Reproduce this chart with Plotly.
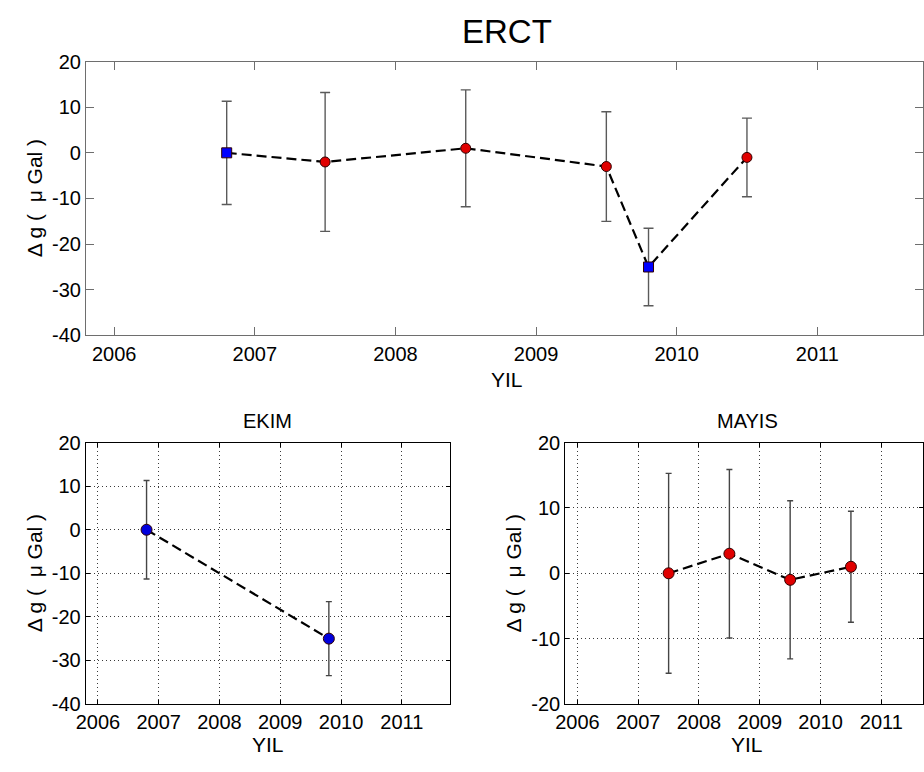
import plotly.graph_objects as go

# ---- data ----
top_x = [2006.8, 2007.5, 2008.5, 2009.5, 2009.8, 2010.5]
top_y = [0, -2, 1, -3, -25, -1]
top_err = [11.3, 15.2, 12.8, 12.0, 8.5, 8.6]
top_campaign = ["EKIM", "MAYIS", "MAYIS", "MAYIS", "EKIM", "MAYIS"]

ekim_x = [2006.8, 2009.8]
ekim_y = [0, -25]
ekim_err = [11.3, 8.5]

mayis_x = [2007.5, 2008.5, 2009.5, 2010.5]
mayis_y = [0, 3, -1, 1]
mayis_err = [15.3, 12.9, 12.1, 8.5]

year_ticks = [2006, 2007, 2008, 2009, 2010, 2011]
top_yticks = [20, 10, 0, -10, -20, -30, -40]
ekim_yticks = [20, 10, 0, -10, -20, -30, -40]
mayis_yticks = [20, 10, 0, -10, -20]

title_main = "ERCT"
title_ekim = "EKIM"
title_mayis = "MAYIS"
xlabel = "YIL"
ylabel = "Δ g (  μ Gal )"

W, H = 924, 772
FONT = "Liberation Sans, Arial, sans-serif"
DASH = "10px,5px"

fig = go.Figure()

def add_panel(xs, ys, errs, colors, symbols, xa, ya, cap, msize, ecolor):
    # error bars
    fig.add_trace(go.Scatter(
        x=xs, y=ys, mode="markers", xaxis=xa, yaxis=ya,
        marker=dict(size=1, opacity=0),
        error_y=dict(type="data", array=errs, visible=True,
                     color=ecolor, thickness=1.4, width=cap),
        showlegend=False, hoverinfo="skip"))
    # dashed line
    fig.add_trace(go.Scatter(
        x=xs, y=ys, mode="lines", xaxis=xa, yaxis=ya,
        line=dict(color="black", width=2.2, dash=DASH),
        showlegend=False))
    # markers
    fig.add_trace(go.Scatter(
        x=xs, y=ys, mode="markers", xaxis=xa, yaxis=ya,
        marker=dict(color=colors, symbol=symbols, size=msize,
                    line=dict(color="#300000", width=1)),
        showlegend=False))

top_colors = ["#0000ff" if c == "EKIM" else "#e00000" for c in top_campaign]
top_symbols = ["square" if c == "EKIM" else "circle" for c in top_campaign]
add_panel(top_x, top_y, top_err, top_colors, top_symbols, "x", "y", 5, 10, "#5a5a5a")
add_panel(ekim_x, ekim_y, ekim_err, ["#0000dd"] * len(ekim_x),
          ["circle"] * len(ekim_x), "x2", "y2", 3, 11, "#454545")
add_panel(mayis_x, mayis_y, mayis_err, ["#e00000"] * len(mayis_x),
          ["circle"] * len(mayis_x), "x3", "y3", 3, 11, "#454545")

tickfont = dict(family=FONT, size=20, color="black")
GRIDDASH = "1px,3px"

def xaxis(domain, rng, linecolor, ticklen, grid):
    return dict(domain=domain, range=rng, tickvals=year_ticks,
                ticktext=[str(t) for t in year_ticks],
                showline=True, linecolor=linecolor, linewidth=1.3,
                mirror="ticks", ticks="inside", ticklen=ticklen,
                tickcolor=linecolor, tickwidth=1,
                showgrid=grid, gridcolor="#3a3a3a", griddash=GRIDDASH,
                gridwidth=1, zeroline=False, tickfont=tickfont)

def yaxis(domain, rng, ticks, linecolor, ticklen, grid, anchor):
    return dict(domain=domain, range=rng, tickvals=ticks,
                ticktext=[str(t) for t in ticks], anchor=anchor,
                showline=True, linecolor=linecolor, linewidth=1.3,
                mirror="ticks", ticks="inside", ticklen=ticklen,
                tickcolor=linecolor, tickwidth=1,
                showgrid=grid, gridcolor="#3a3a3a", griddash=GRIDDASH,
                gridwidth=1, zeroline=False, tickfont=tickfont)

def px_x(p):
    return p / W

def px_y(p):
    return 1 - p / H

fig.update_layout(
    width=W, height=H,
    margin=dict(l=0, r=0, t=0, b=0),
    paper_bgcolor="white", plot_bgcolor="white",
    font=dict(family=FONT, color="black"),
    xaxis=dict(xaxis([px_x(77), 1.0], [2005.8, 2011.752], "#6e6e6e", 8, False), anchor="y"),
    yaxis=yaxis([px_y(334), px_y(52)], [-40, 20], top_yticks, "#6e6e6e", 8, False, "x"),
    xaxis2=dict(xaxis([px_x(76.7), px_x(445.7)], [2005.8, 2011.8], "black", 4, True), anchor="y2"),
    yaxis2=yaxis([px_y(713.3), px_y(444.3)], [-40, 20], ekim_yticks, "black", 4, True, "x2"),
    xaxis3=dict(xaxis([px_x(562), 1.0], [2005.8, 2011.686], "black", 4, True), anchor="y3"),
    yaxis3=yaxis([px_y(713.3), px_y(444.3)], [-20, 20], mayis_yticks, "black", 4, True, "x3"),
)

def ann(text, x, y, size, angle=0):
    fig.add_annotation(text=text, x=px_x(x), y=px_y(y), xref="paper", yref="paper",
                       showarrow=False, textangle=angle,
                       font=dict(family=FONT, size=size, color="black"),
                       xanchor="center", yanchor="middle")

ann(title_main, 503, 21, 33)
ann(xlabel, 503, 379, 21)
ann(ylabel, 25, 193, 21, -90)
ann(title_ekim, 261, 422, 20)
ann(xlabel, 261, 755, 21)
ann(ylabel, 25, 579, 21, -90)
ann(title_mayis, 746, 422, 20)
ann(xlabel, 746, 755, 21)
ann(ylabel, 510, 579, 21, -90)

fig.write_html("out.html")
